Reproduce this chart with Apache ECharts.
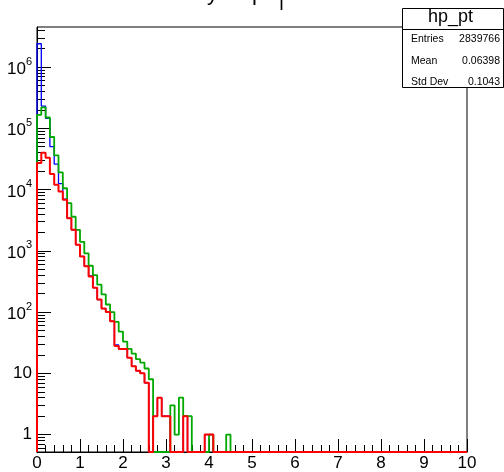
<!DOCTYPE html>
<html><head><meta charset="utf-8">
<script src="https://cdn.jsdelivr.net/npm/echarts@6/dist/echarts.min.js"></script>
<style>html,body{margin:0;padding:0;background:#fff}#c{width:504px;height:472px}</style>
</head><body><div id="c"></div>
<script>
// ---- data ----
const xMin = 0, xMax = 10, nBins = 100;
const yMin = 0.52, yMax = 4.5e6;
const xTickLabels = ['0','1','2','3','4','5','6','7','8','9','10'];
const yMajorTicks = [1, 10, 100, 1000, 1e4, 1e5, 1e6];
const blueCounts = [2400000,230000,145000,50000,26000,12500,7000,3400,2200,1260,
  810,560,390,250,160,114,101,71,29,25,
  25,18,13,11,10,7,0,2,4,2,
  2,0,0,0,2,0,0,0,0,1,
  1,0,0,0,0,0,0,0,0,0,
  0,0,0,0,0,0,0,0,0,0,
  0,0,0,0,0,0,0,0,0,0,
  0,0,0,0,0,0,0,0,0,0,
  0,0,0,0,0,0,0,0,0,0,
  0,0,0,0,0,0,0,0,0,0];
const greenCounts = [166000,220000,150000,72000,36000,19000,10500,6000,3600,2200,
  1400,910,570,400,280,195,133,100,69,48,
  33,25,21,17,15,12,8,0,0,0,
  0,3,1,4,2,2,0,0,0,0,
  1,0,0,0,1,0,0,0,0,0,
  0,0,0,0,0,0,0,0,0,0,
  0,0,0,0,0,0,0,0,0,0,
  0,0,0,0,0,0,0,0,0,0,
  0,0,0,0,0,0,0,0,0,0,
  0,0,0,0,0,0,0,0,0,0];
const redCounts = [27000,40000,33000,18000,12000,9300,6800,3400,2200,1260,
  810,560,380,250,160,114,100,71,28,25,
  25,18,13,11,10,7,0,2,4,2,
  2,0,0,0,2,0,0,0,0,1,
  1,0,0,0,0,0,0,0,0,0,
  0,0,0,0,0,0,0,0,0,0,
  0,0,0,0,0,0,0,0,0,0,
  0,0,0,0,0,0,0,0,0,0,
  0,0,0,0,0,0,0,0,0,0,
  0,0,0,0,0,0,0,0,0,0];
const statsTitle = 'hp_pt';
const statsNames = ['Entries', 'Mean', 'Std Dev'];
const statsValues = ['2839766', '0.06398', '0.1043'];

// ---- build ----
const FONT = 'Liberation Sans';
const binW = (xMax - xMin) / nBins;
function stepPoints(counts) {
  const pts = [[xMin, yMin]];
  counts.forEach((c, i) => pts.push([xMin + i * binW, c > 0 ? c : yMin]));
  const last = counts[counts.length - 1];
  pts.push([xMax, last > 0 ? last : yMin]);
  return pts;
}
const yMinorTicks = [];
for (let e = -1; e <= 6; e++) {
  for (let m = 2; m <= 9; m++) {
    const v = m * Math.pow(10, e);
    if (v > yMin && v < yMax) yMinorTicks.push(v);
  }
}
function hist(name, color, counts, width) {
  return {
    name, type: 'line', data: stepPoints(counts), step: 'end', symbol: 'none',
    clip: false, lineStyle: { color, width }, animation: false
  };
}
const chart = echarts.init(document.getElementById('c'), null, { renderer: 'canvas' });
const statsRows = statsNames.map((n, i) => [
  { type: 'text', left: 411, top: 34 + i * 21.5, z: 101,
    style: { text: n, fontSize: 10.5, fontFamily: FONT, fill: '#000' } },
  { type: 'text', right: 4, top: 34 + i * 21.5, z: 101,
    style: { text: statsValues[i], fontSize: 10.5, fontFamily: FONT, fill: '#000', textAlign: 'right' } }
]).flat();
chart.setOption({
  animation: false,
  grid: { left: 37, top: 27, width: 430, height: 426, show: true, borderColor: '#000', borderWidth: 1, backgroundColor: 'transparent' },
  xAxis: {
    type: 'value', min: xMin, max: xMax, interval: 1,
    axisLine: { show: true, onZero: false, lineStyle: { color: '#000', width: 1 } },
    axisTick: { show: true, inside: true, length: 13, lineStyle: { color: '#000' } },
    minorTick: { show: true, splitNumber: 5, length: 7, lineStyle: { color: '#000' } },
    axisLabel: { fontSize: 17, fontFamily: FONT, color: '#000', margin: 3,
      formatter: (v) => xTickLabels[Math.round(v)] },
    splitLine: { show: false }, minorSplitLine: { show: false }
  },
  yAxis: [
    {
      type: 'log', logBase: 10, min: yMin, max: yMax, position: 'left',
      axisLine: { show: true, lineStyle: { color: '#000', width: 1 } },
      axisTick: { show: true, inside: true, length: 14, customValues: yMajorTicks, lineStyle: { color: '#000' } },
      axisLabel: {
        customValues: yMajorTicks, margin: 5, color: '#000', fontSize: 17, fontFamily: FONT,
        formatter: (v) => {
          const e = Math.round(Math.log10(v));
          if (e === 0) return '1';
          if (e === 1) return '10';
          return '{b|10}{s|' + e + '}';
        },
        rich: {
          b: { fontSize: 17, fontFamily: FONT, color: '#000', verticalAlign: 'bottom', lineHeight: 22 },
          s: { fontSize: 11, fontFamily: FONT, color: '#000', verticalAlign: 'top', lineHeight: 22 }
        }
      },
      splitLine: { show: false }
    },
    {
      type: 'log', logBase: 10, min: yMin, max: yMax, position: 'left', offset: 0,
      axisLine: { show: false },
      axisTick: { show: true, inside: true, length: 8, customValues: yMinorTicks, lineStyle: { color: '#000' } },
      axisLabel: { show: false }, splitLine: { show: false }
    }
  ],
  series: [
    hist('all', '#0000ff', blueCounts, 1.3),
    hist('green', '#00a800', greenCounts, 1.8),
    hist('red', '#ff0000', redCounts, 2)
  ],
  graphic: [
    { type: 'text', left: 207, top: -17, z: 100, style: { text: 'y', fontSize: 22, fontFamily: FONT, fill: '#000' } },
    { type: 'text', left: 252, top: -17, z: 100, style: { text: 'p', fontSize: 22, fontFamily: FONT, fill: '#000' } },
    { type: 'text', left: 276, top: -4, z: 100, style: { text: 'T', fontSize: 18, fontFamily: FONT, fill: '#000' } },
    { type: 'rect', left: 402, top: 8, z: 100, shape: { width: 101, height: 79 }, style: { fill: '#fff', stroke: '#000', lineWidth: 1 } },
    { type: 'line', z: 101, shape: { x1: 402, y1: 29.5, x2: 503, y2: 29.5 }, style: { stroke: '#000', lineWidth: 1 } },
    { type: 'text', left: 428, top: 8, z: 101, style: { text: statsTitle, fontSize: 18, fontFamily: FONT, fill: '#000' } },
    ...statsRows
  ]
});
</script></body></html>
